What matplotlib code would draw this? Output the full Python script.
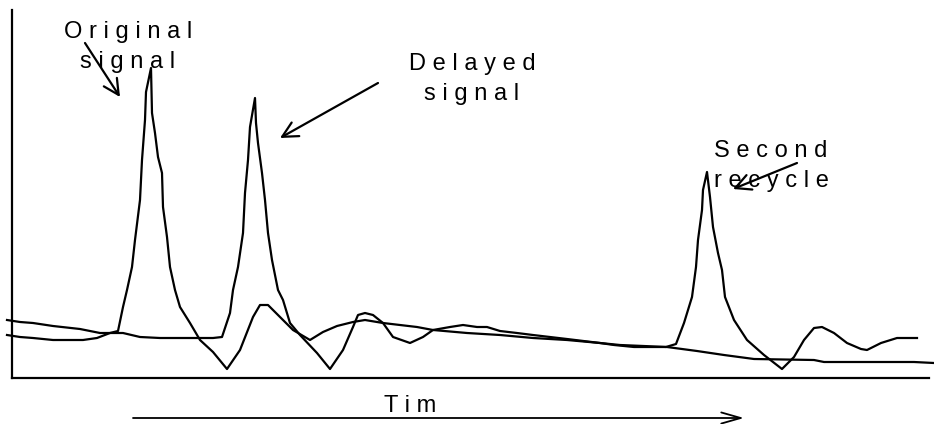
import matplotlib
matplotlib.use("Agg")
import matplotlib.pyplot as plt

plt.rcParams['font.family'] = ['Liberation Sans', 'DejaVu Sans']

# original signal trace (time, amplitude)
orig_t = [-5, 8, 21, 41, 71, 85, 98, 106, 111, 115, 120, 123, 128, 130, 133, 134, 139,
          140, 143, 146, 150, 151, 155, 158, 163, 168, 178, 188, 201, 215, 228, 241, 248,
          256, 268, 281, 298, 311, 325, 341, 353, 371, 405, 421, 455, 488, 521, 555, 588,
          608, 655, 685, 712, 742, 802, 812, 902, 922]
orig_a = [43, 41, 40, 38, 38, 40, 45, 47, 71, 88, 111, 138, 178, 218, 258, 286, 310,
          265, 245, 221, 205, 171, 141, 111, 88, 71, 55, 38, 26, 9, 28, 61, 73,
          73, 61, 48, 38, 46, 52, 56, 58, 55, 51, 48, 45, 43, 40, 38, 35,
          33, 31, 27, 23, 19, 18, 16, 16, 15]

# delayed signal + second recycle
dly_t = [-5, 8, 21, 41, 68, 88, 111, 128, 148, 201, 210, 218, 221, 226, 231, 233, 236,
         238, 243, 244, 246, 250, 253, 256, 260, 266, 271, 278, 288, 305, 318, 331, 341,
         346, 353, 361, 371, 381, 398, 411, 421, 438, 451, 465, 475, 488, 505, 521, 555,
         588, 602, 622, 654, 664, 672, 680, 684, 686, 690, 691, 695, 698, 701, 706, 710,
         713, 722, 735, 752, 770, 782, 792, 802, 810, 822, 835, 849, 855, 869, 885, 905]
dly_a = [58, 56, 55, 52, 49, 45, 45, 41, 40, 40, 41, 65, 88, 111, 145, 185, 218,
         251, 280, 255, 235, 205, 178, 145, 118, 88, 78, 55, 43, 25, 9, 28, 51,
         63, 65, 63, 55, 41, 35, 41, 48, 51, 53, 51, 51, 47, 45, 43, 39,
         35, 33, 31, 31, 34, 55, 81, 111, 138, 168, 188, 206, 181, 151, 125, 108,
         81, 58, 38, 23, 9, 21, 38, 50, 51, 45, 35, 29, 28, 35, 40, 40]

labels = ["Original\nsignal", "Delayed\nsignal", "Second\nrecycle"]
label_x = [116, 460, 759]
label_y = [310, 278, 191]   # baseline of the second line
arrow_tail = [(73, 335), (366, 295), (785, 215)]
arrow_head = [(108, 281), (268, 240), (721, 189)]


def spaced(s):
    return "\n".join(" ".join(line) for line in s.split("\n"))


fig = plt.figure(figsize=(9.34, 4.24), dpi=100)
ax = fig.add_axes([12 / 934, 46 / 424, 917 / 934, 368 / 424])

ax.plot(orig_t, orig_a, color="black", lw=1.6, clip_on=False)
ax.plot(dly_t, dly_a, color="black", lw=1.6, clip_on=False)

ax.set_xlim(0, 917)
ax.set_ylim(0, 368)
ax.set_xticks([])
ax.set_yticks([])
ax.spines["top"].set_visible(False)
ax.spines["right"].set_visible(False)
ax.spines["left"].set_linewidth(1.6)
ax.spines["bottom"].set_linewidth(1.6)

for lab, x, y in zip(labels, label_x, label_y):
    ax.text(x, y, spaced(lab), ha="center", va="baseline", fontsize=17,
            linespacing=1.45, clip_on=False)

for tail, head in zip(arrow_tail, arrow_head):
    ax.annotate("", xy=head, xytext=tail, annotation_clip=False,
                arrowprops=dict(arrowstyle="->, head_length=0.55, head_width=0.28",
                                lw=1.6, color="black", shrinkA=0, shrinkB=0,
                                mutation_scale=20))

# time arrow under the axis
ax.annotate("", xy=(732, -40), xytext=(121, -40), annotation_clip=False,
            arrowprops=dict(arrowstyle="->, head_length=0.7, head_width=0.2",
                            lw=1.3, color="black", shrinkA=0, shrinkB=0,
                            mutation_scale=20))
ax.text(398, -34, spaced("Tim"), ha="center", va="baseline", fontsize=17,
        clip_on=False)

fig.savefig("out.png", dpi=100)
